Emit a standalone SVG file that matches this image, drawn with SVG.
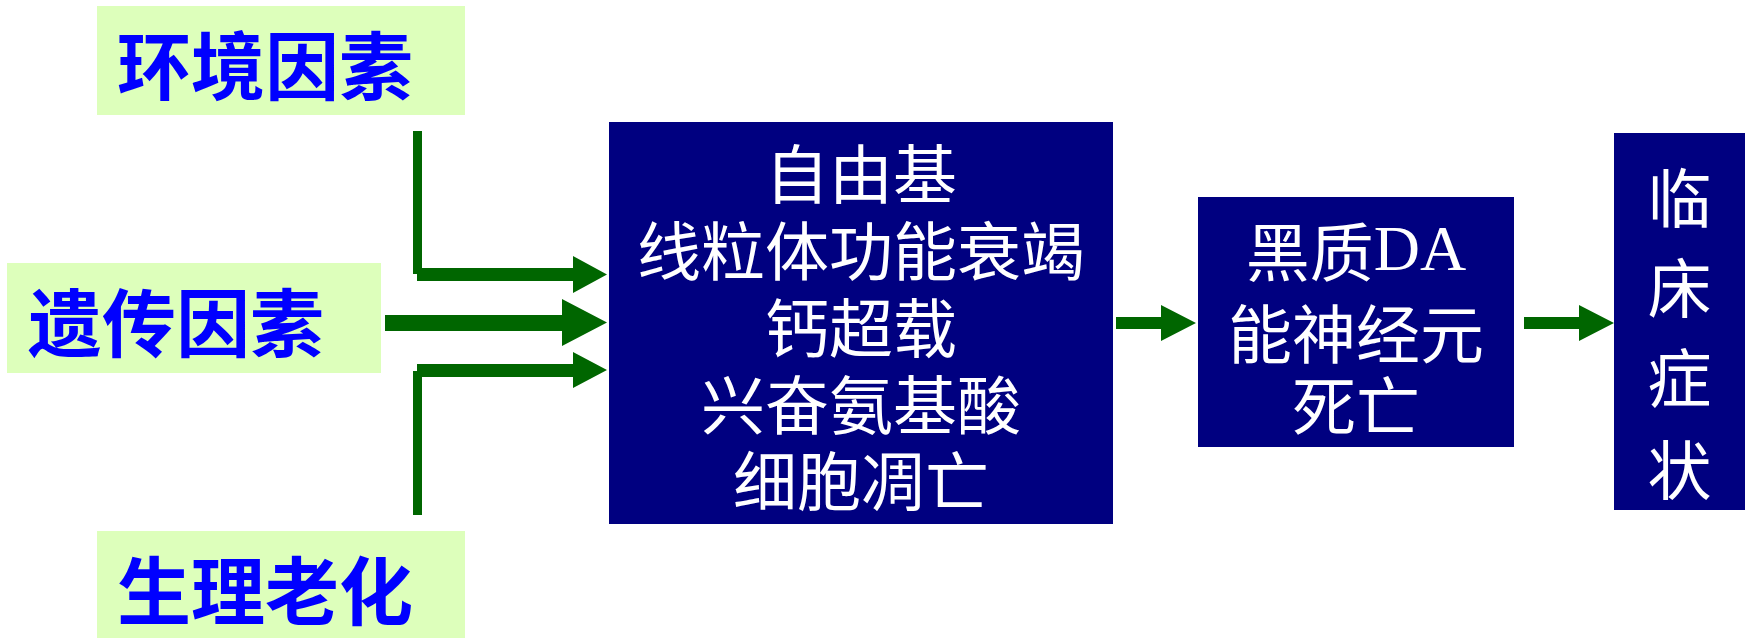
<svg xmlns="http://www.w3.org/2000/svg" width="1750" height="638" viewBox="0 0 1750 638">
<style>
.factor{fill:#DDFFBB}
.ftxt{fill:#0000FF;font-family:"Noto Sans CJK SC","Noto Sans CJK JP",sans-serif;font-weight:bold;font-size:74px;text-anchor:middle;dominant-baseline:central}
.dark{fill:#000080}
.wtxt{fill:#FFFFFF;font-family:"Noto Sans CJK SC","Noto Sans CJK JP",sans-serif;font-size:64px;text-anchor:middle;dominant-baseline:central}
.lat{font-family:"Liberation Serif",serif}
.arr{fill:#006600}
</style>
<rect width="1750" height="638" fill="#FFFFFF"/>
<g id="env">
<rect class="factor" x="97" y="6" width="368" height="109"/>
<text class="ftxt" x="265" y="61">环境因素</text>
</g>
<g id="gene">
<rect class="factor" x="7" y="263" width="374" height="110"/>
<text class="ftxt" x="176" y="318">遗传因素</text>
</g>
<g id="aging">
<rect class="factor" x="97" y="531" width="368" height="107"/>
<text class="ftxt" x="265" y="586">生理老化</text>
</g>
<g id="mech">
<rect class="dark" x="609" y="122" width="504" height="402"/>
<text class="wtxt" x="861" y="170">自由基</text>
<text class="wtxt" x="861" y="247">线粒体功能衰竭</text>
<text class="wtxt" x="861" y="324">钙超载</text>
<text class="wtxt" x="861" y="401">兴奋氨基酸</text>
<text class="wtxt" x="861" y="477">细胞凋亡</text>
</g>
<g id="death">
<rect class="dark" x="1198" y="197" width="316" height="250"/>
<text class="wtxt" x="1356" y="248">黑质<tspan class="lat">DA</tspan></text>
<text class="wtxt" x="1356" y="330">能神经元</text>
<text class="wtxt" x="1356" y="402">死亡</text>
</g>
<g id="clinical">
<rect class="dark" x="1614" y="133" width="131" height="377"/>
<text class="wtxt" x="1679.5" y="194">临</text>
<text class="wtxt" x="1679.5" y="284">床</text>
<text class="wtxt" x="1679.5" y="374">症</text>
<text class="wtxt" x="1679.5" y="466">状</text>
</g>
<g id="connectors">
<rect class="arr" x="413" y="131" width="9" height="143"/>
<path class="arr" d="M417,268 H573 V256 L607,274.5 L573,293 V281 H417 Z"/>
<path class="arr" d="M385,315 H562 V299 L607,322.5 L562,346 V331 H385 Z"/>
<rect class="arr" x="413" y="371" width="9" height="144"/>
<path class="arr" d="M417,364 H573 V352 L607,370 L573,388 V377 H417 Z"/>
<path class="arr" d="M1116,317 H1161 V305 L1196,323 L1161,341 V329 H1116 Z"/>
<path class="arr" d="M1524,317 H1579 V305 L1614,323 L1579,341 V329 H1524 Z"/>
</g>
</svg>
